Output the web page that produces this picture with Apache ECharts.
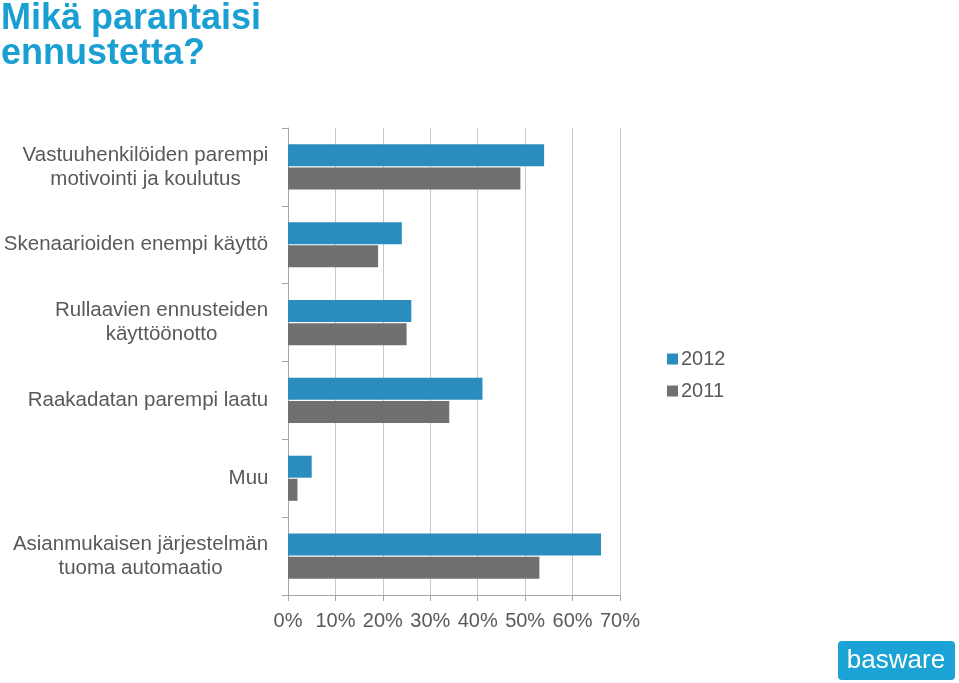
<!DOCTYPE html>
<html><head><meta charset="utf-8">
<script src="https://cdn.jsdelivr.net/npm/echarts@6/dist/echarts.min.js"></script>
<style>html,body{margin:0;padding:0;background:#fff}#c{width:959px;height:683px}</style>
</head><body><div id="c"></div>
<script>
const categories = [
  "Vastuuhenkilöiden parempi\nmotivointi ja koulutus",
  "Skenaarioiden enempi käyttö",
  "Rullaavien ennusteiden\nkäyttöönotto",
  "Raakadatan parempi laatu",
  "Muu",
  "Asianmukaisen järjestelmän\ntuoma automaatio"
];
const values2012 = [54, 24, 26, 41, 5, 66];
const values2011 = [49, 19, 25, 34, 2, 53];
const seriesNames = ["2012", "2011"];

const FAM = '"Liberation Sans", Arial, sans-serif';
const labelSize = 20.5;
const cv = document.createElement('canvas').getContext('2d');
cv.font = labelSize + 'px ' + FAM;
const rich = {};
categories.forEach((c, i) => {
  const w = Math.max(...c.split('\n').map(l => cv.measureText(l).width));
  rich['r' + i] = { width: Math.ceil(w) + 1, align: 'center', fontSize: labelSize, lineHeight: 24, color: '#595959', fontFamily: FAM };
});

const chart = echarts.init(document.getElementById('c'));
chart.setOption({
  animation: false,
  title: {
    text: 'Mikä parantaisi\nennustetta?',
    left: 1, top: 2, padding: 0,
    textStyle: { color: '#1a9fd3', fontSize: 36, fontWeight: 'bold', lineHeight: 35, fontFamily: FAM }
  },
  legend: {
    orient: 'vertical', left: 667, top: 349, padding: 0,
    itemWidth: 11, itemHeight: 11, itemGap: 12,
    icon: 'rect',
    data: seriesNames,
    textStyle: { fontSize: 20, color: '#595959', fontFamily: FAM, padding: [0,0,0,-2] }
  },
  grid: { left: 288, right: 339, top: 128, bottom: 88, containLabel: false },
  xAxis: {
    type: 'value', min: 0, max: 70, interval: 10,
    axisLine: { show: true, lineStyle: { color: '#a6a6a6' } },
    axisTick: { show: true, length: 6, lineStyle: { color: '#a6a6a6' } },
    splitLine: { show: true, lineStyle: { color: '#c8c8c8' } },
    axisLabel: { formatter: '{value}%', fontSize: 20, color: '#595959', margin: 16, fontFamily: FAM }
  },
  yAxis: {
    type: 'category', data: categories, inverse: true,
    axisLine: { show: true, lineStyle: { color: '#a6a6a6' } },
    axisTick: { show: true, length: 6, lineStyle: { color: '#a6a6a6' } },
    axisLabel: {
      margin: 19,
      formatter: (v, i) => v.split('\n').map(l => '{r' + i + '|' + l + '}').join('\n'),
      rich: rich
    }
  },
  series: [
    { name: seriesNames[0], type: 'bar', data: values2012, barWidth: 22, barGap: '5%', itemStyle: { color: '#2b8cbe' } },
    { name: seriesNames[1], type: 'bar', data: values2011, barWidth: 22, itemStyle: { color: '#707070' } }
  ],
  graphic: [
    { type: 'rect', left: 838, top: 641, shape: { width: 117, height: 39, r: 4 }, style: { fill: '#1ba3d6' } },
    { type: 'text', x: 896, y: 661, style: { text: 'basware', fill: '#fff', font: '26px "Liberation Sans", Arial, sans-serif', align: 'center', verticalAlign: 'middle' } }
  ]
});
</script></body></html>
